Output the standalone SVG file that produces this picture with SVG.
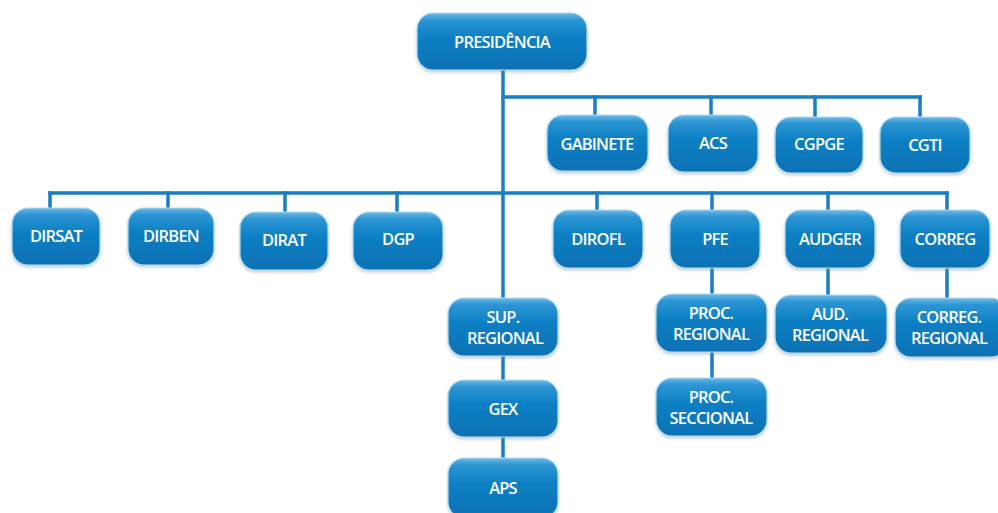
<svg xmlns="http://www.w3.org/2000/svg" width="998" height="513" viewBox="0 0 998 513">
<defs>
<linearGradient id="g" x1="0" y1="0" x2="0" y2="1">
<stop offset="0" stop-color="#6cbbe6"/>
<stop offset="0.12" stop-color="#2d95d3"/>
<stop offset="0.45" stop-color="#0a7ec3"/>
<stop offset="1" stop-color="#0a72b4"/>
</linearGradient>
<filter id="sh" x="-10%" y="-10%" width="120%" height="130%">
<feDropShadow dx="0" dy="2" stdDeviation="1.5" flood-color="#6a8aa0" flood-opacity="0.4"/>
</filter>
</defs>
<style>
.n rect{fill:url(#g);stroke:#b9dcf2;stroke-width:1.2;filter:url(#sh)}
.n text{fill:#ffffff;font-family:"Open Sans","Liberation Sans",sans-serif;font-size:16.5px;font-weight:600;text-anchor:middle;letter-spacing:-0.8px}
.c line{stroke:#1a7ec2;stroke-width:3.5;stroke-linecap:square}
</style>
<rect width="998" height="513" fill="#ffffff"/>
<g class="c" id="connectors">
<line x1="503" y1="68" x2="503" y2="298"/>
<line x1="503" y1="97" x2="920" y2="97"/>
<line x1="595" y1="97" x2="595" y2="115"/>
<line x1="711" y1="97" x2="711" y2="115"/>
<line x1="815" y1="97" x2="815" y2="117"/>
<line x1="920" y1="97" x2="920" y2="117"/>
<line x1="50" y1="193" x2="947" y2="193"/>
<line x1="50" y1="193" x2="50" y2="208"/>
<line x1="168" y1="193" x2="168" y2="208"/>
<line x1="285" y1="193" x2="285" y2="212"/>
<line x1="397" y1="193" x2="397" y2="212"/>
<line x1="597" y1="193" x2="597" y2="210"/>
<line x1="712" y1="193" x2="712" y2="294"/>
<line x1="828" y1="193" x2="828" y2="295"/>
<line x1="947" y1="193" x2="947" y2="298"/>
<line x1="503" y1="356" x2="503" y2="380"/>
<line x1="503" y1="437" x2="503" y2="458"/>
<line x1="712" y1="352" x2="712" y2="378"/>
</g>
<g class="n" id="presidencia"><rect x="417" y="13" width="170" height="57" rx="16"/><text x="502" y="48">PRESIDÊNCIA</text></g>
<g class="n" id="gabinete"><rect x="547" y="115" width="101" height="56" rx="16"/><text x="597" y="150">GABINETE</text></g>
<g class="n" id="acs"><rect x="668" y="115" width="90" height="57" rx="16"/><text x="713" y="149">ACS</text></g>
<g class="n" id="cgpge"><rect x="775" y="117" width="88" height="56" rx="16"/><text x="819" y="150">CGPGE</text></g>
<g class="n" id="cgti"><rect x="880" y="117" width="90" height="56" rx="16"/><text x="925" y="151">CGTI</text></g>
<g class="n" id="dirsat"><rect x="12" y="208" width="88" height="57" rx="16"/><text x="56" y="242">DIRSAT</text></g>
<g class="n" id="dirben"><rect x="128" y="208" width="86" height="57" rx="16"/><text x="171" y="242">DIRBEN</text></g>
<g class="n" id="dirat"><rect x="240" y="212" width="88" height="58" rx="16"/><text x="284" y="246">DIRAT</text></g>
<g class="n" id="dgp"><rect x="353" y="212" width="90" height="58" rx="16"/><text x="398" y="245">DGP</text></g>
<g class="n" id="dirofl"><rect x="553" y="210" width="90" height="58" rx="16"/><text x="598" y="245">DIROFL</text></g>
<g class="n" id="pfe"><rect x="670" y="210" width="90" height="58" rx="16"/><text x="715" y="245">PFE</text></g>
<g class="n" id="audger"><rect x="785" y="210" width="90" height="58" rx="16"/><text x="830" y="245">AUDGER</text></g>
<g class="n" id="correg"><rect x="900" y="210" width="90" height="58" rx="16"/><text x="945" y="245">CORREG</text></g>
<g class="n" id="sup-regional"><rect x="448" y="298" width="110" height="58" rx="16"/><text x="503" y="323">SUP.</text><text x="505" y="344">REGIONAL</text></g>
<g class="n" id="gex"><rect x="448" y="380" width="110" height="57" rx="16"/><text x="503" y="415">GEX</text></g>
<g class="n" id="aps"><rect x="448" y="458" width="110" height="60" rx="16"/><text x="503" y="494">APS</text></g>
<g class="n" id="proc-regional"><rect x="656" y="294" width="111" height="58" rx="16"/><text x="711" y="319">PROC.</text><text x="711" y="340">REGIONAL</text></g>
<g class="n" id="proc-seccional"><rect x="656" y="378" width="111" height="58" rx="16"/><text x="711" y="403">PROC.</text><text x="711" y="424">SECCIONAL</text></g>
<g class="n" id="aud-regional"><rect x="775" y="295" width="112" height="58" rx="16"/><text x="830" y="320">AUD.</text><text x="830" y="341">REGIONAL</text></g>
<g class="n" id="correg-regional"><rect x="895" y="298" width="112" height="59" rx="16"/><text x="949" y="323">CORREG.</text><text x="949" y="344">REGIONAL</text></g>
</svg>
